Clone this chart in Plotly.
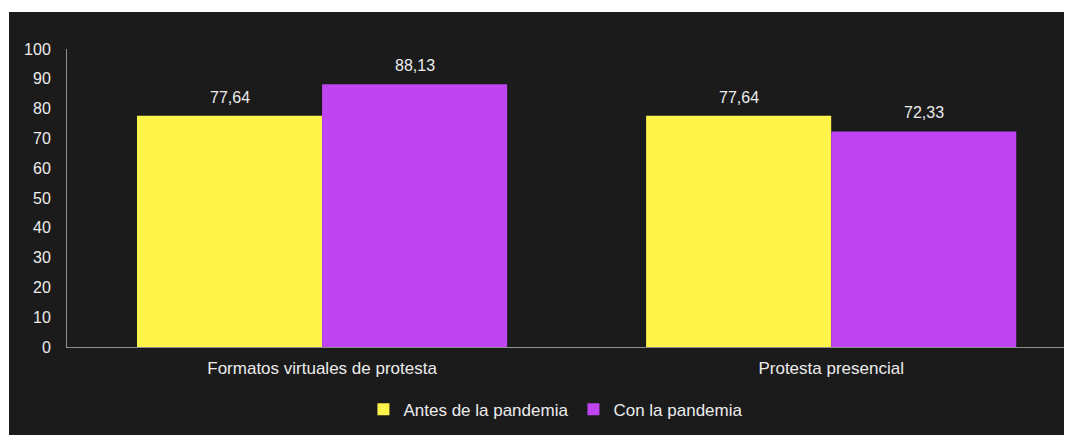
import plotly.graph_objects as go

categories = ["Formatos virtuales de protesta", "Protesta presencial"]
series_names = ["Antes de la pandemia", "Con la pandemia"]
antes = [77.64, 77.64]
con = [88.13, 72.33]
y_ticks = [0, 10, 20, 30, 40, 50, 60, 70, 80, 90, 100]

BG = "#1b1b1b"
FONT = "Liberation Sans, Arial, sans-serif"
TXT = "#ececec"
COLORS = ["#FFF44A", "#BE45F1"]

# page body has an 8px margin; margins chosen to land plot area where the reference has it
W, H = 1072, 435
ML, MR, MT, MB = 59, 8, 41, 96
pw = W - ML - MR
ph = H - MT - MB
BARGAP = 0.273

fig = go.Figure()
for s, (name, vals) in enumerate(zip(series_names, [antes, con])):
    fig.add_trace(go.Bar(
        x=list(range(len(categories))), y=vals, name=name,
        marker=dict(color=COLORS[s], line=dict(width=0)),
    ))

bw = (1 - BARGAP) / 2
for s, vals in enumerate([antes, con]):
    for i, v in enumerate(vals):
        fig.add_annotation(
            x=i + (s - 0.5) * bw, y=v, xref="x", yref="y",
            text=f"{v:.2f}".replace(".", ","), showarrow=False,
            yanchor="bottom", yshift=8,
            font=dict(color=TXT, size=16, family=FONT),
        )

# dark card background (white strip at top and left as in reference)
fig.add_shape(type="rect", xref="paper", yref="paper",
              x0=(1 - ML) / pw, x1=1.0 + MR / pw,
              y0=-(MB + 10) / ph, y1=(MT + ph - 4) / ph,
              fillcolor=BG, line=dict(width=0), layer="below")

fig.update_layout(
    width=W, height=H,
    margin=dict(l=ML, r=MR, t=MT, b=MB),
    paper_bgcolor="white",
    plot_bgcolor=BG,
    separators=",.",
    barmode="group",
    bargap=BARGAP,
    bargroupgap=0,
    font=dict(family=FONT, color=TXT, size=16),
    showlegend=True,
    legend=dict(orientation="h", x=0.4865, xanchor="center", y=-0.21, yanchor="middle",
                font=dict(size=17, color=TXT, family=FONT), bgcolor="rgba(0,0,0,0)",
                tracegroupgap=0),
)
fig.update_xaxes(
    range=[-0.501, 1.473],
    tickvals=list(range(len(categories))), ticktext=categories,
    showgrid=False, zeroline=False,
    showline=True, linecolor="#8f8f8f", linewidth=1,
    ticks="outside", ticklen=6, tickcolor="rgba(0,0,0,0)",
    tickfont=dict(size=17, color=TXT, family=FONT),
)
fig.update_yaxes(
    range=[0, 100], tickvals=y_ticks,
    showgrid=False, zeroline=False,
    showline=True, linecolor="#8f8f8f", linewidth=1,
    ticks="outside", ticklen=12, tickcolor="rgba(0,0,0,0)",
    tickfont=dict(size=16, color=TXT, family=FONT),
)

fig.write_html("out.html")
